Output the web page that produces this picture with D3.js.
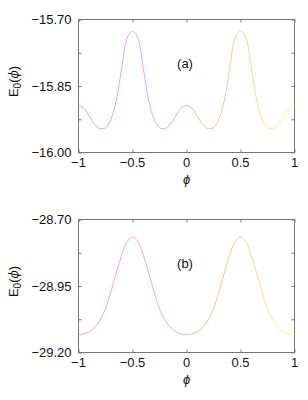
<!DOCTYPE html>
<html>
<head>
<meta charset="utf-8">
<script src="https://cdn.jsdelivr.net/npm/d3@7"></script>
<style>
	body { margin: 0; background: #fff; }
	svg { display: block; }
	text { font-family: "Liberation Sans", Arial, sans-serif; fill: #111; }
</style>
</head>
<body>
<div id="chart"></div>
<script>

// phi samples shared by both panels
const phi = [ -1, -0.95, -0.9, -0.85, -0.8, -0.75, -0.7, -0.65, -0.6, -0.55, -0.5,
	-0.45, -0.4, -0.35, -0.3, -0.25, -0.2, -0.15, -0.1, -0.05, 0,
	0.05, 0.1, 0.15, 0.2, 0.25, 0.3, 0.35, 0.4, 0.45, 0.5,
	0.55, 0.6, 0.65, 0.7, 0.75, 0.8, 0.85, 0.9, 0.95, 1 ];

// panel (a) ground state energy
const energyA = [ -15.894, -15.900, -15.918, -15.937, -15.946, -15.944, -15.925, -15.882, -15.810, -15.742, -15.726,
	-15.742, -15.810, -15.882, -15.925, -15.944, -15.946, -15.937, -15.918, -15.900, -15.894,
	-15.900, -15.918, -15.937, -15.946, -15.944, -15.925, -15.882, -15.810, -15.742, -15.726,
	-15.742, -15.810, -15.882, -15.925, -15.944, -15.946, -15.937, -15.918, -15.900, -15.894 ];

// panel (b)
const energyB = [ -29.132, -29.130, -29.122, -29.105, -29.078, -29.035, -28.972, -28.901, -28.834, -28.784, -28.766,
	-28.784, -28.834, -28.901, -28.972, -29.035, -29.078, -29.105, -29.122, -29.130, -29.132,
	-29.130, -29.122, -29.105, -29.078, -29.035, -28.972, -28.901, -28.834, -28.784, -28.766,
	-28.784, -28.834, -28.901, -28.972, -29.035, -29.078, -29.105, -29.122, -29.130, -29.132 ];

const xTicks = [ -1, -0.5, 0, 0.5, 1 ];
const xTickLabels = [ "\u22121", "\u22120.5", "0", "0.5", "1" ];

const yDomainA = [ -16.00, -15.70 ];
const yTicksA = [ -16.00, -15.925, -15.85, -15.775, -15.70 ];
const yLabelsA = [ -16.00, -15.85, -15.70 ];

const yDomainB = [ -29.20, -28.70 ];
const yTicksB = [ -29.20, -29.075, -28.95, -28.825, -28.70 ];
const yLabelsB = [ -29.20, -28.95, -28.70 ];

// palette along phi (violet -> magenta -> red -> orange -> yellow)
const paletteStops = [ "#dc9cf7", "#ff9cec", "#ffa8aa", "#ffca98", "#ffff8c" ];

const W = 308, H = 400;

const svg = d3.select( "#chart" )
	.append( "svg" )
		.attr( "width", W )
		.attr( "height", H );

const defs = svg.append( "defs" );

function draw_panel( top, yDomain, yTicks, yLabels, energy, tag, id )	{

	let left = 78.5, right = 294.5, bottom = top + 133;

	let x = d3.scaleLinear().domain( [ -1, 1 ] ).range( [ left, right ] );
	let y = d3.scaleLinear().domain( yDomain ).range( [ bottom, top ] );

	let grad = defs.append( "linearGradient" )
		.attr( "id", id )
		.attr( "gradientUnits", "userSpaceOnUse" )
		.attr( "x1", x( -1 ) ).attr( "x2", x( 1 ) )
		.attr( "y1", 0 ).attr( "y2", 0 );
	grad.selectAll( "stop" )
		.data( paletteStops )
		.join( "stop" )
			.attr( "offset", ( d, i ) => i / ( paletteStops.length - 1 ) )
			.attr( "stop-color", d => d );

	let g = svg.append( "g" );

	// frame
	g.append( "rect" )
		.attr( "x", left ).attr( "y", top )
		.attr( "width", right - left ).attr( "height", bottom - top )
		.attr( "fill", "none" )
		.attr( "stroke", "#777" )
		.attr( "stroke-width", 1 );

	const tl = 3;

	// x ticks, bottom and top, pointing inward
	g.append( "g" )
		.attr( "transform", `translate(0,${ bottom })` )
		.call( d3.axisBottom( x ).tickValues( xTicks ).tickSizeInner( -tl ).tickSizeOuter( 0 ).tickFormat( "" ) );
	g.append( "g" )
		.attr( "transform", `translate(0,${ top })` )
		.call( d3.axisTop( x ).tickValues( xTicks ).tickSizeInner( -tl ).tickSizeOuter( 0 ).tickFormat( "" ) );

	// y ticks, left and right
	g.append( "g" )
		.attr( "transform", `translate(${ left },0)` )
		.call( d3.axisLeft( y ).tickValues( yTicks ).tickSizeInner( -tl ).tickSizeOuter( 0 ).tickFormat( "" ) );
	g.append( "g" )
		.attr( "transform", `translate(${ right },0)` )
		.call( d3.axisRight( y ).tickValues( yTicks ).tickSizeInner( -tl ).tickSizeOuter( 0 ).tickFormat( "" ) );

	g.selectAll( ".domain" ).remove();
	g.selectAll( ".tick line" ).attr( "stroke", "#777" );

	// labels
	g.selectAll( "text.ylab" )
		.data( yLabels )
		.join( "text" )
			.attr( "class", "ylab" )
			.attr( "x", left - 7 )
			.attr( "y", d => y( d ) + 4.5 )
			.attr( "text-anchor", "end" )
			.attr( "font-size", 13 )
			.text( d => d3.format( ".2f" )( d ).replace( "-", "\u2212" ) );

	g.selectAll( "text.xlab" )
		.data( xTicks )
		.join( "text" )
			.attr( "class", "xlab" )
			.attr( "x", d => x( d ) )
			.attr( "y", bottom + 14 )
			.attr( "text-anchor", "middle" )
			.attr( "font-size", 13 )
			.text( ( d, i ) => xTickLabels[ i ] );

	// x axis title
	g.append( "text" )
		.attr( "x", x( 0 ) )
		.attr( "y", bottom + 31 )
		.attr( "text-anchor", "middle" )
		.attr( "font-size", 13 )
		.attr( "font-style", "italic" )
		.attr( "font-family", "DejaVu Serif, serif" )
		.text( "\u03d5" );

	// y axis title
	let yt = g.append( "text" )
		.attr( "transform", `translate(18,${ top + 62 }) rotate(-90)` )
		.attr( "text-anchor", "middle" )
		.attr( "font-size", 13 );
	yt.append( "tspan" ).text( "E" );
	yt.append( "tspan" ).attr( "dy", 3 ).attr( "font-size", 10 ).text( "0" );
	yt.append( "tspan" ).attr( "dy", -3 ).text( "(" );
	yt.append( "tspan" ).attr( "font-style", "italic" ).attr( "font-family", "DejaVu Serif, serif" ).attr( "font-size", 12 ).text( "\u03d5" );
	yt.append( "tspan" ).text( ")" );

	// panel tag
	g.append( "text" )
		.attr( "x", 185 )
		.attr( "y", top + 48 )
		.attr( "text-anchor", "middle" )
		.attr( "font-size", 13 )
		.text( tag );

	// the curve
	let line = d3.line()
		.x( ( d, i ) => x( phi[ i ] ) )
		.y( d => y( d ) )
		.curve( d3.curveCatmullRom.alpha( 0.5 ) );

	g.append( "path" )
		.datum( energy )
		.attr( "d", line )
		.attr( "fill", "none" )
		.attr( "stroke", `url(#${ id })` )
		.attr( "stroke-width", 1 );
}

draw_panel( 19.5, yDomainA, yTicksA, yLabelsA, energyA, "(a)", "gradA" );
draw_panel( 219.5, yDomainB, yTicksB, yLabelsB, energyB, "(b)", "gradB" );

</script>
</body>
</html>
